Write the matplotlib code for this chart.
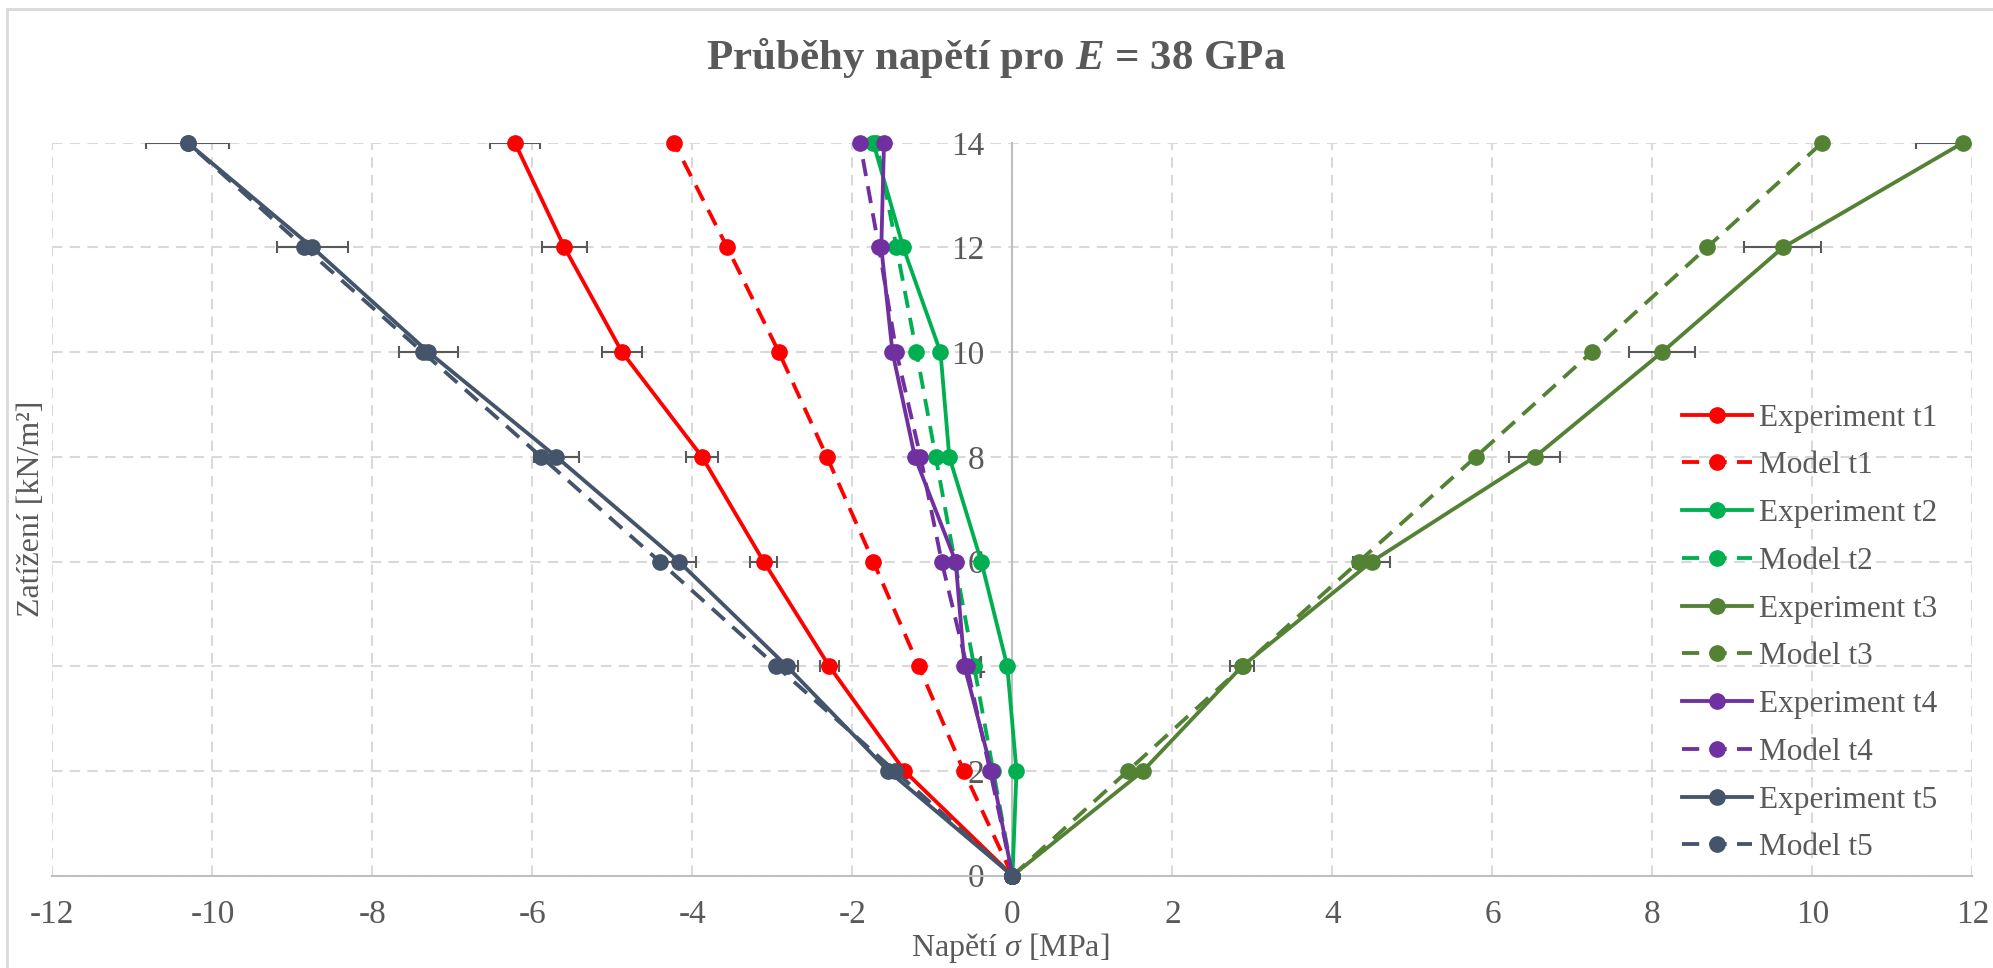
import matplotlib
matplotlib.use("Agg")
import matplotlib.pyplot as plt
from matplotlib.patches import Rectangle

plt.rcParams['font.family'] = ['Liberation Serif', 'DejaVu Serif']
plt.rcParams['axes.unicode_minus'] = False
plt.rcParams['mathtext.fontset'] = 'custom'
plt.rcParams['mathtext.rm'] = 'Liberation Serif'
plt.rcParams['mathtext.it'] = 'Liberation Serif:italic'
plt.rcParams['mathtext.bf'] = 'Liberation Serif:bold'
plt.rcParams['mathtext.bfit'] = 'Liberation Serif:italic:bold'

TXT = '#595959'
GRID = '#D9D9D9'

# load levels [kN/m2]
load = [0, 2, 4, 6, 8, 10, 12, 14]

# stresses [MPa]
exp_t1 = [0, -1.35, -2.29, -3.11, -3.88, -4.88, -5.60, -6.22]
mod_t1 = [0, -0.61, -1.17, -1.74, -2.32, -2.92, -3.565, -4.23]
exp_t2 = [0, 0.05, -0.065, -0.39, -0.79, -0.90, -1.365, -1.74]
mod_t2 = [0, -0.24, -0.48, -0.72, -0.96, -1.20, -1.45, -1.70]
exp_t3 = [0, 1.63, 2.87, 4.49, 6.53, 8.12, 9.63, 11.88]
mod_t3 = [0, 1.44, 2.88, 4.33, 5.79, 7.24, 8.68, 10.12]
exp_t4 = [0, -0.26, -0.60, -0.71, -1.22, -1.50, -1.64, -1.606]
mod_t4 = [0, -0.28, -0.57, -0.885, -1.15, -1.45, -1.67, -1.906]
exp_t5 = [0, -1.55, -2.82, -4.17, -5.70, -7.30, -8.75, -10.31]
mod_t5 = [0, -1.47, -2.95, -4.41, -5.89, -7.37, -8.85, -10.31]

# horizontal error bars of the experiments
err_t1 = [0, 0.05, 0.12, 0.17, 0.20, 0.25, 0.28, 0.31]
err_t3 = [0, 0.05, 0.15, 0.23, 0.32, 0.41, 0.48, 0.59]
err_t5 = [0, 0.06, 0.14, 0.21, 0.28, 0.37, 0.44, 0.52]

series = [
    ("t1", exp_t1, mod_t1, err_t1, '#FF0000'),
    ("t2", exp_t2, mod_t2, None, '#00B050'),
    ("t3", exp_t3, mod_t3, err_t3, '#548235'),
    ("t4", exp_t4, mod_t4, None, '#7030A0'),
    ("t5", exp_t5, mod_t5, err_t5, '#44546A'),
]

fig = plt.figure(figsize=(19.93, 9.68), dpi=100)
ax = fig.add_axes([0.02634, 0.09535, 0.96337, 0.75713])

lw = 2.75
ms = 11
for name, ex, md, err, col in series:
    if err is not None:
        ax.errorbar(ex, load, xerr=err, fmt='none', ecolor=TXT, elinewidth=1.5,
                    capsize=4.5, capthick=1.5, zorder=2)
    ax.plot(ex, load, '-o', color=col, lw=lw, ms=ms, clip_on=False, zorder=3,
            label="Experiment " + name)
    ax.plot(md, load, 'o', ls=(0, (4.5, 2.7)), color=col, lw=lw, ms=ms,
            clip_on=False, zorder=3, label="Model " + name)

ax.set_xlim(-12, 12)
ax.set_ylim(0, 14)
ax.set_xticks(range(-12, 13, 2))
ax.set_yticks(range(0, 15, 2))

ax.grid(True, color=GRID, lw=1.5, ls=(0, (5, 3.5)))
ax.set_axisbelow(True)
for s in ['top', 'right']:
    ax.spines[s].set_visible(False)
ax.spines['left'].set_position(('data', 0))
ax.spines['left'].set_color('#BFBFBF')
ax.spines['left'].set_linewidth(1.5)
ax.spines['bottom'].set_color('#BFBFBF')
ax.spines['bottom'].set_linewidth(1.5)
ax.tick_params(axis='both', length=0, labelsize=24, labelcolor=TXT)
ax.tick_params(axis='x', pad=17)
ax.tick_params(axis='y', pad=20)

fig.text(0.5, 1 - 57 / 968, r'Průběhy napětí pro $\mathbfit{E}$ = 38 GPa',
         fontsize=31, fontweight='bold', color=TXT, ha='center', va='center')
fig.text(0.507, 0.0207, r'Napětí $\sigma$ [MPa]', fontsize=23, color=TXT,
         ha='center', va='center')
fig.text(0.016, 0.474, 'Zatížení [kN/m²]', fontsize=23, color=TXT,
         ha='center', va='center', rotation=90)

leg = ax.legend(loc='upper left', bbox_to_anchor=(0.844, 0.583),
                bbox_transform=fig.transFigure, frameon=False, borderpad=0,
                borderaxespad=0, handlelength=2.25, handletextpad=0.2,
                labelspacing=0.6, fontsize=22.5)
for t in leg.get_texts():
    t.set_color(TXT)

# chart area frame (cut by the picture on the right and bottom)
fig.add_artist(Rectangle((7 / 1993, -0.1), 1.2, 1.1 - 9 / 968,
                         transform=fig.transFigure, fill=False,
                         ec=GRID, lw=2))

fig.savefig("out.png", dpi=100)
